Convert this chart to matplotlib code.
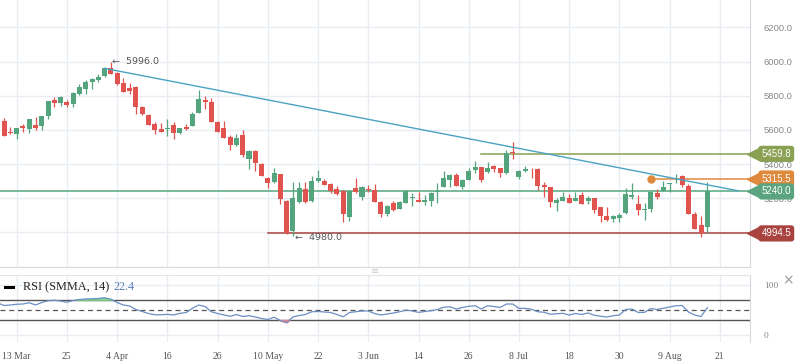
import matplotlib
matplotlib.use("Agg")
import matplotlib.pyplot as plt
import numpy as np

# candle index 0 = 13 Mar, one step per trading day
first_idx = -3
opens = [5695, 5654, 5585, 5576, 5620, 5605, 5629, 5623, 5683, 5775, 5759, 5765, 5750, 5808,
         5839, 5882, 5892, 5917, 5960, 5935, 5872, 5847, 5851, 5736, 5689, 5635, 5605, 5608,
         5629, 5582, 5617, 5625, 5701, 5775, 5763, 5646, 5611, 5559, 5514, 5570, 5428, 5477,
         5401, 5319, 5294, 5342, 5186, 5011, 5177, 5254, 5184, 5301, 5301, 5283, 5254, 5244,
         5092, 5258, 5206, 5254, 5249, 5180, 5108, 5174, 5137, 5174, 5203, 5190, 5180, 5186,
         5235, 5264, 5307, 5336, 5264, 5307, 5365, 5381, 5356, 5389, 5375, 5346, 5469, 5326,
         5361, 5373, 5371, 5278, 5264, 5174, 5186, 5200, 5186, 5219, 5184, 5200, 5147, 5096,
         5079, 5087, 5112, 5209, 5167, 5132, 5140, 5233, 5243, 5282, 5293, 5330, 5272, 5108,
         5044, 5034]
highs = [5700, 5671, 5615, 5612, 5635, 5665, 5677, 5683, 5772, 5794, 5800, 5775, 5823, 5867,
         5892, 5904, 5925, 5970, 5996, 5940, 5904, 5872, 5855, 5742, 5695, 5648, 5642, 5664,
         5648, 5613, 5635, 5703, 5833, 5798, 5787, 5650, 5652, 5572, 5576, 5599, 5480, 5482,
         5408, 5322, 5375, 5342, 5190, 5296, 5294, 5294, 5330, 5365, 5313, 5290, 5274, 5250,
         5245, 5320, 5270, 5278, 5282, 5185, 5160, 5186, 5185, 5250, 5233, 5239, 5219, 5235,
         5288, 5360, 5340, 5346, 5310, 5379, 5418, 5385, 5411, 5392, 5378, 5482, 5531, 5365,
         5389, 5376, 5375, 5294, 5268, 5200, 5237, 5225, 5237, 5239, 5213, 5204, 5150, 5147,
         5100, 5112, 5258, 5290, 5219, 5171, 5242, 5254, 5303, 5290, 5340, 5336, 5284, 5122,
         5096, 5297]
lows = [5670, 5566, 5576, 5545, 5585, 5580, 5599, 5598, 5664, 5736, 5740, 5732, 5732, 5804,
        5810, 5841, 5882, 5908, 5927, 5863, 5823, 5810, 5695, 5687, 5629, 5576, 5588, 5566,
        5547, 5574, 5599, 5625, 5701, 5720, 5648, 5590, 5551, 5482, 5506, 5440, 5373, 5362,
        5332, 5262, 5290, 5167, 4990, 4980, 5171, 5171, 5180, 5298, 5278, 5233, 5220, 5060,
        5067, 5230, 5190, 5237, 5177, 5092, 5098, 5125, 5135, 5170, 5155, 5178, 5159, 5157,
        5171, 5264, 5268, 5274, 5254, 5305, 5346, 5297, 5350, 5356, 5326, 5340, 5430, 5313,
        5352, 5317, 5249, 5209, 5151, 5128, 5184, 5171, 5184, 5165, 5167, 5116, 5063, 5068,
        5063, 5063, 5108, 5196, 5102, 5073, 5122, 5196, 5240, 5235, 5291, 5268, 5106, 5020,
        4976, 4995]
closes = [5675, 5566, 5580, 5609, 5610, 5662, 5613, 5681, 5769, 5759, 5792, 5745, 5814, 5853,
          5878, 5898, 5911, 5960, 5927, 5870, 5823, 5829, 5736, 5693, 5629, 5599, 5588, 5612,
          5584, 5611, 5605, 5695, 5781, 5765, 5648, 5590, 5555, 5514, 5553, 5455, 5477, 5408,
          5332, 5291, 5346, 5194, 4995, 5203, 5262, 5177, 5301, 5319, 5280, 5244, 5223, 5106,
          5243, 5235, 5266, 5249, 5177, 5106, 5155, 5131, 5180, 5243, 5207, 5180, 5190, 5233,
          5239, 5317, 5336, 5274, 5307, 5360, 5381, 5307, 5375, 5371, 5350, 5463, 5463, 5360,
          5371, 5369, 5274, 5264, 5180, 5190, 5206, 5171, 5200, 5167, 5200, 5131, 5098, 5073,
          5096, 5102, 5225, 5219, 5131, 5136, 5239, 5210, 5264, 5288, 5296, 5278, 5108, 5020,
          4995, 5240]
rsi = [64, 59, 60, 61.5, 62, 64.5, 60, 65, 68.5, 69.5, 68, 65.5, 69, 71, 72, 72.5, 73, 74.5,
       71.5, 65, 60, 58, 51, 47, 43, 40.5, 40.5, 41.3, 40, 43.3, 45, 53.5, 60, 57, 46.5, 43,
       40, 37.5, 41, 37, 38.5, 36, 33, 31, 35.5, 29, 25, 36, 39, 41, 46.5, 47, 46, 45, 41,
       36.5, 45, 46.5, 48, 48, 43, 40, 42, 44, 46.5, 50, 48, 45.3, 47, 48.5, 51, 55.5, 56.5,
       52, 55, 57.5, 58.5, 52, 58.5, 57, 55, 62, 62, 53.3, 53.3, 51.5, 46.5, 45.5, 41.5, 42.5,
       43.3, 40, 43, 41, 44, 39.5, 37.5, 36, 38.5, 40, 51, 52, 45, 45.3, 53, 51, 53.5, 56,
       58.5, 59, 46, 40, 37, 54.5]

date_pos = [0, 8, 16, 24, 32, 40, 48, 56, 64, 72, 80, 88, 96, 104, 112]
date_labels = ["13 Mar", "25", "4 Apr", "16", "26", "10 May", "22", "3 Jun", "14", "26",
               "8 Jul", "18", "30", "9 Aug", "21"]

# drawn levels
trend_x = [14, 114.9]
trend_y = [5960, 5244]
last_price = 5240.0
support_level, support_start = 4994.5, 40
resist_level, resist_start = 5459.8, 74
alert_level, alert_start = 5315.5, 101
peak_idx, peak_val = 15.2, 5996.0
low_idx, low_val = 44.3, 4980.0

GREEN = "#54a57d"
RED = "#e0534f"
GRID = "#e9edf1"

x = np.arange(first_idx, first_idx + len(opens))
o = np.array(opens, float)
h = np.array(highs, float)
l = np.array(lows, float)
c = np.array(closes, float)
up = c >= o
col = np.where(up, GREEN, RED)

fig = plt.figure(figsize=(7.98, 3.63), dpi=100)
ax = fig.add_axes([0, 1 - 267 / 363, 750 / 798, 267 / 363])
ax2 = fig.add_axes([0, 1 - 342 / 363, 750 / 798, 67 / 363])

xlim = (-2.66, 116.8)
for a in (ax, ax2):
    a.set_xlim(*xlim)
    a.set_xticks(date_pos)
    a.grid(True, color=GRID, lw=1)
    a.set_axisbelow(True)
    a.tick_params(length=0)
    for s in ("top", "left", "bottom"):
        a.spines[s].set_visible(False)
    a.spines["right"].set_color("#d6d9dd")
    a.yaxis.tick_right()

# ---- price panel
ax.set_ylim(4798, 6360)
ax.set_yticks(np.arange(4800, 6201, 200))
# 4800 sits on the panel edge and 5000 is hidden under the support tag
ax.set_yticklabels(["", ""] + [f"{v:.1f}" for v in np.arange(5200, 6201, 200)],
                   fontsize=6.8, color="#888888", family="Liberation Sans")
ax.tick_params(axis="y", pad=10)
ax.set_xticklabels([])
ax.spines["bottom"].set_visible(True)
ax.spines["bottom"].set_color("#d6d9dd")

ax.vlines(x, l, h, color=col, lw=0.9, zorder=3)
body = np.maximum(np.abs(c - o), 5)
ax.bar(x, body, bottom=np.minimum(o, c), width=0.8, color=col, zorder=4)

ax.plot(trend_x, trend_y, color="#4aa3c2", lw=1.0, zorder=5)
ax.axhline(last_price, color=GREEN, lw=1.1, zorder=2)
ax.plot([support_start, xlim[1]], [support_level] * 2, color="#a8433f", lw=1.1, zorder=2)
ax.plot([resist_start, xlim[1]], [resist_level] * 2, color="#8aa052", lw=1.1, zorder=2)
ax.plot([alert_start, xlim[1]], [alert_level] * 2, color="#e0893d", lw=1.1, zorder=2)
ax.plot([alert_start], [alert_level], "o", color="#e0893d", ms=5, zorder=6)

ax.text(peak_idx, peak_val + 5, f"\u2190  {peak_val:.1f}", fontsize=6.8, color="#555555",
        ha="left", va="center", family="DejaVu Sans", zorder=6)
ax.text(low_idx, low_val - 12, f"\u2190  {low_val:.1f}", fontsize=6.8, color="#555555",
        ha="left", va="center", family="DejaVu Sans", zorder=6)


def tag(y, label, color, z):
    tr = ax.get_yaxis_transform()
    ax.plot([1.0045], [y], marker="<", ms=9, color=color, transform=tr,
            clip_on=False, zorder=z)
    ax.text(1.035, y, label, transform=tr, ha="center", va="center", fontsize=7,
            color="white", family="Liberation Sans", clip_on=False, zorder=z,
            bbox=dict(boxstyle="round,pad=0.32,rounding_size=0.3", fc=color, ec="none"))


tag(resist_level, f"{resist_level:.1f}", "#8aa052", 10)
tag(alert_level, f"{alert_level:.1f}", "#e0893d", 11)
tag(last_price, f"{last_price:.1f}", "#5aa57f", 12)
tag(support_level, f"{support_level:.1f}", "#a8433f", 13)

fig.text(375 / 798, 1 - 271 / 363, "\u2261", ha="center", va="center", fontsize=7,
         color="#cccccc")

# ---- RSI panel
ax2.set_ylim(-14, 120)
ax2.set_yticks([0, 100])
ax2.set_yticklabels(["0", "100"], fontsize=6.8, color="#888888", family="Liberation Serif")
ax2.tick_params(axis="y", pad=10)
ax2.set_xticklabels(date_labels, fontsize=7, color="#555555", family="Liberation Serif")
ax2.tick_params(axis="x", pad=7)
ax2.spines["top"].set_visible(True)
ax2.spines["top"].set_color("#e2e5e9")

r = np.array(rsi, float)
ax2.plot(x, r, color="#6b8fc4", lw=0.9, zorder=4)
ax2.fill_between(x, r, 70, where=r > 70, interpolate=True, color="#7fd08a", alpha=0.8, zorder=3)
ax2.fill_between(x, r, 30, where=r < 30, interpolate=True, color="#f08a8a", alpha=0.9, zorder=3)
ax2.axhline(70, color="#555555", lw=1.0, zorder=2)
ax2.axhline(30, color="#555555", lw=1.0, zorder=2)
ax2.axhline(50, color="#555555", lw=0.9, ls=(0, (4, 3)), zorder=2)

ax2.plot([0.007, 0.017], [0.82, 0.82], color="black", lw=2.2, transform=ax2.transAxes)
ax2.text(0.031, 0.82, "RSI (SMMA, 14)", transform=ax2.transAxes, fontsize=8.8,
         family="Liberation Serif", color="#222222", va="center")
ax2.text(0.152, 0.82, "22.4", transform=ax2.transAxes, fontsize=8.8,
         family="Liberation Serif", color="#5c80b8", va="center")
ax2.text(1.05, 0.92, "\u00d7", transform=ax2.transAxes, fontsize=10, color="#999999",
         ha="center", va="center", clip_on=False)

fig.savefig("out.png", dpi=100)
